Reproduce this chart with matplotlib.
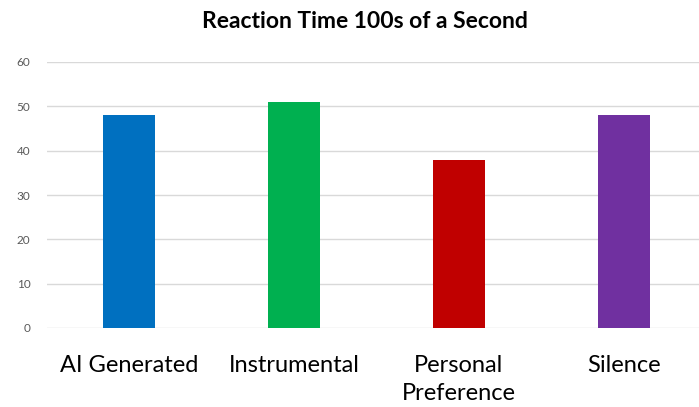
import matplotlib
matplotlib.use("Agg")
import matplotlib.pyplot as plt

categories = ["AI Generated", "Instrumental", "Personal\nPreference", "Silence"]
reaction_times = [48, 51, 38, 48]
bar_colors = ["#0070C0", "#00B050", "#C00000", "#7030A0"]
y_ticks = [0, 10, 20, 30, 40, 50, 60]

plt.rcParams["font.family"] = ["Lato", "DejaVu Sans"]

fig = plt.figure(figsize=(6.99, 4.07), dpi=100)
ax = fig.add_axes([47 / 699, 1 - 328 / 407, 1 - 47 / 699, (328 - 62) / 407])

x = list(range(len(categories)))
ax.bar(x, reaction_times, width=0.31, color=bar_colors, zorder=3)

ax.set_xlim(-0.497, 3.455)
ax.set_ylim(0, 60)
ax.set_yticks(y_ticks)
ax.set_xticks(x)
ax.set_xticklabels(categories, fontsize=17, color="black", linespacing=1.38)
ax.tick_params(axis="y", labelsize=8.5, labelcolor="#595959", length=0, pad=12)
ax.tick_params(axis="x", length=0, pad=19.5)
ax.grid(axis="y", color="#D9D9D9", linewidth=1, zorder=0)
for side in ["top", "right", "left", "bottom"]:
    ax.spines[side].set_visible(False)

fig.text(365 / 699, 1 - 22 / 407, "Reaction Time 100s of a Second", ha="center", va="center",
         fontsize=16.5, fontweight="bold")

fig.savefig("out.png", dpi=100)
